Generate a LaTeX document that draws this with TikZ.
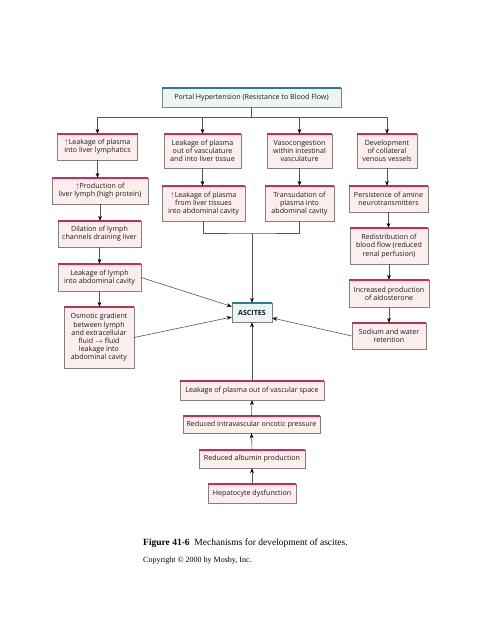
\documentclass[tikz,border=0pt]{standalone}
\usepackage{fontspec}
\setmainfont{Liberation Serif}
\newfontfamily\boxfont{Open Sans}
\usepackage{xcolor}
\usetikzlibrary{arrows.meta,
	positioning,
	calc}
\definecolor{boxfill}{HTML}{FCEEEC}
\definecolor{boxline}{HTML}{808080}
\definecolor{boxtop}{HTML}{C42E5E}
\definecolor{bluefill}{HTML}{EDF4F4}
\definecolor{bluetop}{HTML}{2B7C8C}
\definecolor{upcol}{HTML}{8A3A8A}
\definecolor{linkcol}{HTML}{555555}
\newcommand{\upar}{\textcolor{upcol}{$\uparrow$}}
\tikzset{
	cause/.style={draw=boxline, fill=boxfill, align=center, inner sep=1pt, text=black!90,
		font=\boxfont\fontsize{7.1}{8.2}\selectfont},
	hub/.style={cause, fill=bluefill},
	link/.style={draw=linkcol, line width=0.6pt},
	arr/.style={link, -{Stealth[length=5pt,width=3.8pt,color=black]}},
}
\begin{document}
\begin{tikzpicture}[x=1pt,y=-1pt]
	\useasboundingbox[fill=white] (0,0) rectangle (480,622);
	% top and centre
	\node[hub, minimum width=179pt, minimum height=19pt] (portal) at (251.5,97.5) {Portal Hypertension (Resistance to Blood Flow)};
	\node[hub, minimum width=40pt, minimum height=19pt, font=\boxfont\bfseries\fontsize{7.1}{8}\selectfont] (ascites) at (252,312.5) {ASCITES};
	% first row
	\node[cause, minimum width=80pt, minimum height=26pt] (a1) at (97.5,147) {\upar Leakage of plasma\\into liver lymphatics};
	\node[cause, minimum width=77pt, minimum height=34pt] (b1) at (202.5,151) {Leakage of plasma\\out of vasculature\\and into liver tissue};
	\node[cause, minimum width=65pt, minimum height=34pt] (c1) at (299.5,151) {Vasocongestion\\within intestinal\\vasculature};
	\node[cause, minimum width=60pt, minimum height=34pt] (d1) at (387,151) {Development\\of collateral\\venous vessels};
	% second row
	\node[cause, minimum width=96pt, minimum height=26pt] (a2) at (100,191) {\upar Production of\\liver lymph (high protein)};
	\node[cause, minimum width=83pt, minimum height=35pt] (b2) at (203.5,203.5) {\upar Leakage of plasma\\from liver tissues\\into abdominal cavity};
	\node[cause, minimum width=69pt, minimum height=35pt] (c2) at (299.5,203.5) {Transudation of\\plasma into\\abdominal cavity};
	\node[cause, minimum width=79pt, minimum height=26pt] (d2) at (388.5,199) {Persistence of amine\\neurotransmitters};
	% left column
	\node[cause, minimum width=83pt, minimum height=26pt] (a3) at (99.5,234) {Dilation of lymph\\channels draining liver};
	\node[cause, minimum width=83pt, minimum height=27pt] (a4) at (99.5,277.5) {Leakage of lymph\\into abdominal cavity};
	\node[cause, minimum width=70pt, minimum height=61pt] (a5) at (99,337.5) {Osmotic gradient\\between lymph\\and extracellular\\fluid $\rightarrow$ fluid\\leakage into\\abdominal cavity};
	% right column
	\node[cause, minimum width=78pt, minimum height=36pt] (d3) at (389,246) {Redistribution of\\blood flow (reduced\\renal perfusion)};
	\node[cause, minimum width=80pt, minimum height=27pt] (d4) at (389,293.5) {Increased production\\of aldosterone};
	\node[cause, minimum width=74pt, minimum height=26pt] (d5) at (389,336) {Sodium and water\\retention};
	% bottom chain
	\node[cause, minimum width=144pt, minimum height=19pt] (e1) at (252,390.5) {Leakage of plasma out of vascular space};
	\node[cause, minimum width=137pt, minimum height=17pt] (e2) at (251.5,424.5) {Reduced intravascular oncotic pressure};
	\node[cause, minimum width=106pt, minimum height=18pt] (e3) at (252,459) {Reduced albumin production};
	\node[cause, minimum width=88pt, minimum height=19pt] (e4) at (252,493.5) {Hepatocyte dysfunction};
	% coloured top edges
	\foreach \n in {a1,b1,c1,d1,a2,b2,c2,d2,a3,a4,a5,d3,d4,d5,e1,e2,e3,e4} {
		\draw[boxtop, line width=1.6pt] (\n.north west) -- (\n.north east);
	}
	\foreach \n in {portal,ascites} {
		\draw[bluetop, line width=1.6pt] (\n.north west) -- (\n.north east);
	}
	% connectors
	\coordinate (split) at (251.5,117);
	\draw[link] (portal.south) -- (split);
	\foreach \n in {a1,b1,c1,d1} {
		\draw[arr] (split) -| (\n.north);
	}
	\foreach \u/\v in {a1/a2,a2/a3,a3/a4,a4/a5,b1/b2,c1/c2,d1/d2,d2/d3,d3/d4,d4/d5} {
		\draw[arr] (\u.south) -- (\u.south |- \v.north);
	}
	\coordinate (merge) at (252,233);
	\draw[link] (b2.south) |- (merge) -| (c2.south);
	\draw[arr] (merge) -- (ascites.north);
	\draw[arr] (a4.east) -- ([yshift=6pt]ascites.west);
	\draw[arr] (a5.east) -- ([yshift=-4.5pt]ascites.west);
	\draw[arr] (d5.west) -- ([yshift=-5.5pt]ascites.east);
	\foreach \u/\v in {e4/e3,e3/e2,e2/e1,e1/ascites} {
		\draw[arr] (\u.north) -- (\v.south);
	}
	% caption
	\node[anchor=west, inner sep=0pt, font=\fontsize{9.5}{11}\selectfont] (caption) at (143,543) {\textbf{Figure 41-6}\enspace Mechanisms for development of ascites.};
	\node[anchor=west, inner sep=0pt, font=\fontsize{8}{9}\selectfont] (copyright) at (143,561) {Copyright \textcopyright{} 2000 by Mosby, Inc.};
\end{tikzpicture}
\end{document}
